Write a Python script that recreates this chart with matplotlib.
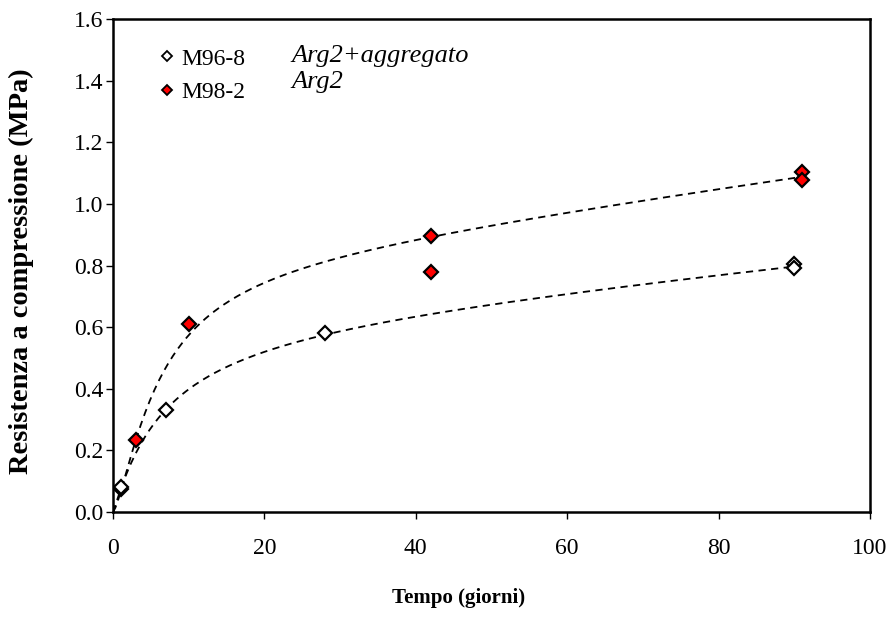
import numpy as np
import matplotlib
matplotlib.use("Agg")
import matplotlib.pyplot as plt

# ---- data ----
m96_x = [1, 1, 7, 28, 90, 90]
m96_y = [0.075, 0.082, 0.331, 0.58, 0.806, 0.793]
m98_x = [3, 10, 42, 42, 91, 91]
m98_y = [0.234, 0.61, 0.897, 0.78, 1.105, 1.078]

# points
trend96_x = [1, 7, 28, 60, 90]
trend96_y = [0.075, 0.331, 0.58, 0.70, 0.80]
trend98_x = [1.4, 3, 6, 10, 20, 30, 42, 91]
trend98_y = [0.082, 0.234, 0.407, 0.61, 0.737, 0.809, 0.897, 1.09]

series_labels = ["M96-8", "M98-2"]
series_notes = ["Arg2+aggregato", "Arg2"]
x_ticks = [0, 20, 40, 60, 80, 100]
y_ticks = [0.0, 0.2, 0.4, 0.6, 0.8, 1.0, 1.2, 1.4, 1.6]
x_label = "Tempo (giorni)"
y_label = "Resistenza a compressione (MPa)"


def fit_trend(xs, ys):
    """Least-squares fit of y = a*x^n/(b^n+x^n) + c*x (passes through origin)."""
    xs = np.asarray(xs, float)
    ys = np.asarray(ys, float)
    best = None
    for n in np.arange(0.6, 1.41, 0.02):
        for b in np.logspace(0, 2.5, 250):
            f = xs ** n / (b ** n + xs ** n)
            A = np.column_stack([f, xs])
            coef, *_ = np.linalg.lstsq(A, ys, rcond=None)
            err = np.sum((A @ coef - ys) ** 2)
            if best is None or err < best[0]:
                best = (err, n, b, coef)
    _, n, b, (a, c) = best
    return lambda x: a * x ** n / (b ** n + x ** n) + c * x


plt.rcParams["font.family"] = ["Liberation Serif", "DejaVu Serif"]

fig = plt.figure(figsize=(8.92, 6.25), dpi=100)
ax = fig.add_axes([113 / 892, 1 - 512 / 625, 757 / 892, 493 / 625])

f96 = fit_trend(trend96_x, trend96_y)
f98 = fit_trend(trend98_x, trend98_y)
xx96 = np.linspace(0, max(m96_x), 300)
xx98 = np.linspace(0, max(m98_x), 300)
ax.plot(xx96, f96(xx96), color="black", lw=1.3, dashes=(4, 3), zorder=2)
ax.plot(xx98, f98(xx98), color="black", lw=1.3, dashes=(4, 3), zorder=2)

ax.plot(m96_x, m96_y, ls="none", marker="D", ms=7.5, mfc="white", mec="black",
        mew=1.6, zorder=3)
ax.plot(m98_x, m98_y, ls="none", marker="D", ms=7.5, mfc="#ff0000", mec="black",
        mew=1.6, zorder=3)

# legend
h1, = ax.plot([], [], ls="none", marker="D", ms=5, mfc="white", mec="black", mew=1.3)
h2, = ax.plot([], [], ls="none", marker="D", ms=5, mfc="#ff0000", mec="black", mew=1.3)
leg = ax.legend([h1, h2], series_labels, loc="upper left",
                bbox_to_anchor=(0.062, 0.941), frameon=False, fontsize=17,
                handlelength=0.6, handletextpad=0.3, borderpad=0,
                borderaxespad=0, labelspacing=0.5)
ax.text(0.236, 0.913, series_notes[0], transform=ax.transAxes, fontsize=19,
        style="italic", va="baseline", ha="left")
ax.text(0.236, 0.860, series_notes[1], transform=ax.transAxes, fontsize=19,
        style="italic", va="baseline", ha="left")

ax.set_xlim(0, 100)
ax.set_ylim(0, 1.6)
ax.set_xticks(x_ticks)
ax.set_xticklabels([str(v) for v in x_ticks])
ax.set_yticks(y_ticks)
ax.set_yticklabels([f"{v:.1f}" for v in y_ticks])
ax.tick_params(axis="both", direction="out", length=5, width=1, labelsize=17,
               color="black")
ax.tick_params(axis="x", pad=14)
ax.tick_params(axis="y", pad=2)
for s in ax.spines.values():
    s.set_linewidth(1.8)
    s.set_color("black")

ax.set_xlabel(x_label, fontsize=15, fontweight="bold")
ax.set_ylabel(y_label, fontsize=20.5, fontweight="bold")
ax.xaxis.set_label_coords(0.456, -0.155)
ax.yaxis.set_label_coords(-0.104, 0.489)

fig.savefig("out.png", dpi=100)
